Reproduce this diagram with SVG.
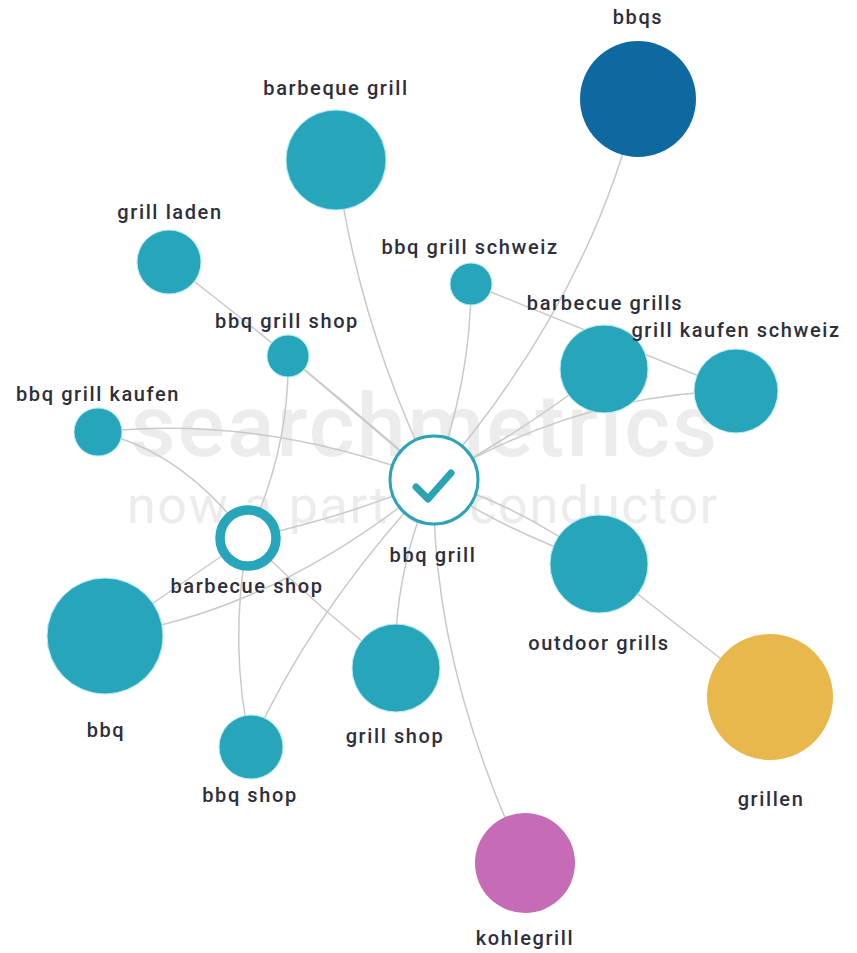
<svg xmlns="http://www.w3.org/2000/svg" width="857" height="953" viewBox="0 0 857 953">
<style>
.wm{font-family:Roboto,"Liberation Sans",sans-serif;fill:#ececec;text-anchor:middle}
.lbl{font-family:Roboto,"Liberation Sans",sans-serif;font-weight:500;font-size:20px;letter-spacing:1.6px;fill:#2e2e3c;text-anchor:middle}
.edge{fill:none;stroke:#c9c9c9;stroke-width:1.5}
.teal{fill:#27a5ba;stroke:#b4ecf3;stroke-width:1}
</style>
<rect width="857" height="953" fill="#ffffff"/>
<g id="watermark">
<text class="wm" x="425" y="456" font-size="88" font-weight="500" letter-spacing="2">searchmetrics</text>
<text class="wm" x="423" y="523" font-size="52" letter-spacing="1.7">now a part of conductor</text>
</g>
<g id="connectors">
<path class="edge" d="M434 480 Q590 300 638 99"/>
<path class="edge" d="M434 480 Q358 325 336 160"/>
<path class="edge" d="M434 480 Q300 362 169 262"/>
<path class="edge" d="M434 480 Q471 380 471 284"/>
<path class="edge" d="M434 480 L288 356"/>
<path class="edge" d="M434 480 Q525 430 604 369"/>
<path class="edge" d="M434 480 Q580 393 736 391"/>
<path class="edge" d="M434 480 Q262 414 98 432"/>
<path class="edge" d="M434 480 Q343 518 248 538"/>
<path class="edge" d="M434 480 Q520 505 599 564"/>
<path class="edge" d="M434 480 Q480 520 599 564"/>
<path class="edge" d="M434 480 Q392 575 396 668"/>
<path class="edge" d="M434 480 Q310 613 251 747"/>
<path class="edge" d="M434 480 Q430 660 525 863"/>
<path class="edge" d="M434 480 Q275 612 105 636"/>
<path class="edge" d="M98 432 Q183 451 248 538"/>
<path class="edge" d="M288 356 Q290 447 248 538"/>
<path class="edge" d="M105 636 L248 538"/>
<path class="edge" d="M248 538 Q228 645 251 747"/>
<path class="edge" d="M248 538 Q318 608 396 668"/>
<path class="edge" d="M471 284 L736 391"/>
<path class="edge" d="M599 564 L770 697"/>
</g>
<g id="n-bbqs"><circle cx="638" cy="99" r="58" fill="#0f69a1"/><text class="lbl" x="638" y="24">bbqs</text></g>
<g id="n-barbeque-grill"><circle class="teal" cx="336" cy="160" r="50"/><text class="lbl" x="336" y="95">barbeque grill</text></g>
<g id="n-grill-laden"><circle class="teal" cx="169" cy="262" r="32"/><text class="lbl" x="170" y="219">grill laden</text></g>
<g id="n-bbq-grill-schweiz"><circle class="teal" cx="471" cy="284" r="21"/><text class="lbl" x="470" y="254">bbq grill schweiz</text></g>
<g id="n-bbq-grill-shop"><circle class="teal" cx="288" cy="356" r="21"/><text class="lbl" x="287" y="328">bbq grill shop</text></g>
<g id="n-barbecue-grills"><circle class="teal" cx="604" cy="369" r="44"/><text class="lbl" x="605" y="310">barbecue grills</text></g>
<g id="n-grill-kaufen-schweiz"><circle class="teal" cx="736" cy="391" r="42"/><text class="lbl" x="736" y="337">grill kaufen schweiz</text></g>
<g id="n-bbq-grill-kaufen"><circle class="teal" cx="98" cy="432" r="24"/><text class="lbl" x="98" y="401">bbq grill kaufen</text></g>
<g id="n-barbecue-shop"><circle cx="248" cy="538" r="28" fill="#ffffff" stroke="#27a5ba" stroke-width="9.5"/><text class="lbl" x="247" y="593">barbecue shop</text></g>
<g id="n-outdoor-grills"><circle class="teal" cx="599" cy="564" r="49"/><text class="lbl" x="599" y="650">outdoor grills</text></g>
<g id="n-bbq"><circle class="teal" cx="105" cy="636" r="58"/><text class="lbl" x="106" y="737">bbq</text></g>
<g id="n-grill-shop"><circle class="teal" cx="396" cy="668" r="44"/><text class="lbl" x="395" y="743">grill shop</text></g>
<g id="n-bbq-shop"><circle class="teal" cx="251" cy="747" r="32"/><text class="lbl" x="250" y="802">bbq shop</text></g>
<g id="n-grillen"><circle cx="770" cy="697" r="63" fill="#e8b84c"/><text class="lbl" x="771" y="806">grillen</text></g>
<g id="n-kohlegrill"><circle cx="525" cy="863" r="50" fill="#c66bb5"/><text class="lbl" x="525" y="945">kohlegrill</text></g>
<g id="n-bbq-grill"><circle cx="434" cy="480" r="44" fill="#ffffff" stroke="#2aa5b5" stroke-width="3"/><path d="M416 487 L428 499 L451 473" fill="none" stroke="#2aa3b3" stroke-width="7" stroke-linecap="round" stroke-linejoin="round"/><text class="lbl" x="433" y="562">bbq grill</text></g>
</svg>
